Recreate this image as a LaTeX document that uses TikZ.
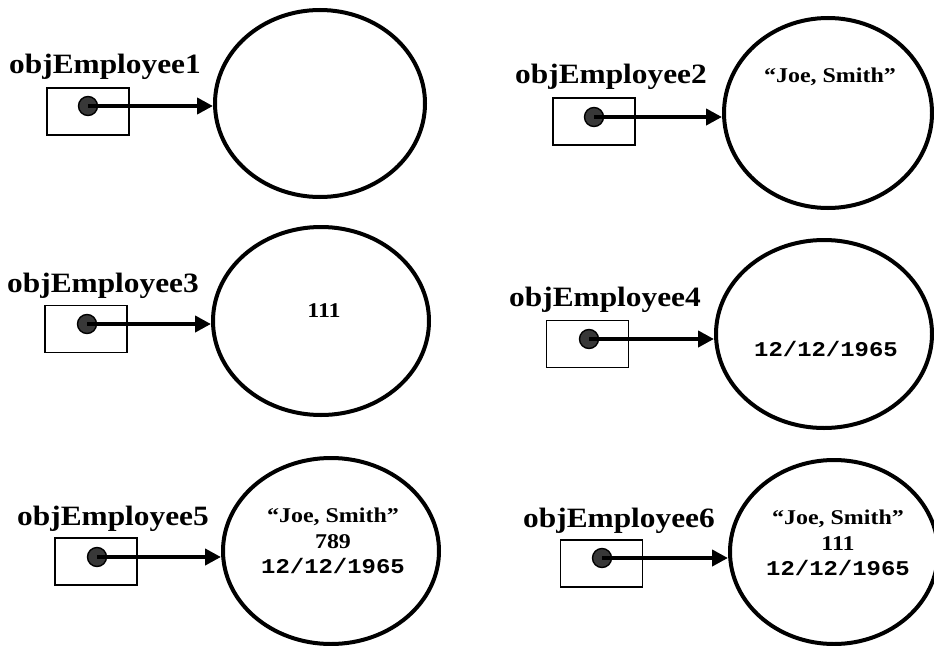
\documentclass[tikz,border=0pt]{standalone}
\usepackage{fontspec}
\setmainfont{Liberation Serif}[FakeStretch=1.12]
\newfontfamily\valfont{Liberation Serif}[FakeStretch=1.14]
\newfontfamily\codefont{Liberation Mono}[FakeStretch=1.14]
\usetikzlibrary{shapes.geometric,arrows.meta}
\tikzset{
  varname/.style={anchor=base west, inner sep=0pt, font=\fontsize{28}{32}\selectfont\bfseries},
  refbox/.style={draw, line width=1.6pt, inner sep=0pt, minimum width=82pt, minimum height=47pt},
  refdot/.style={circle, draw, line width=1.4pt, fill=black!78, minimum size=19pt, inner sep=0pt},
  objshape/.style={ellipse, draw, line width=4pt, inner sep=0pt},
  ref/.style={line width=4.5pt, -{Triangle[length=16pt,width=16pt]}},
  val/.style={anchor=base, inner sep=0pt, font=\fontsize{21}{25}\selectfont\valfont\bfseries},
  dateval/.style={anchor=base, inner sep=0pt, font=\fontsize{21}{25}\selectfont\codefont\bfseries},
}
\begin{document}
\begin{tikzpicture}[x=1pt, y=-1pt]
\useasboundingbox (0,0) rectangle (934,645);

% objEmployee1: empty object
\node[varname] (n1) at (9,73) {objEmployee1};
\node[refbox] (b1) at (88,111.5) {};
\node[refdot] (d1) at (88,106) {};
\node[objshape, minimum width=210pt, minimum height=187pt] (e1) at (320,103.5) {};
\draw[ref] (d1.center) -- (d1.center -| e1.west);

% objEmployee2: name set
\node[varname] (n2) at (515,83) {objEmployee2};
\node[refbox] (b2) at (594,121.5) {};
\node[refdot] (d2) at (594,117) {};
\node[objshape, minimum width=208pt, minimum height=190pt] (e2) at (828,113) {};
\node[val] (v2a) at (830,82) {“Joe, Smith”};
\draw[ref] (d2.center) -- (d2.center -| e2.west);

% objEmployee3: id set
\node[varname] (n3) at (7,292) {objEmployee3};
\node[refbox] (b3) at (86,329) {};
\node[refdot] (d3) at (87,324) {};
\node[objshape, minimum width=216pt, minimum height=188pt] (e3) at (321,321) {};
\node[val] (v3a) at (324,317) {111};
\draw[ref] (d3.center) -- (d3.center -| e3.west);

% objEmployee4: date set
\node[varname] (n4) at (509,306) {objEmployee4};
\node[refbox] (b4) at (587.5,344) {};
\node[refdot] (d4) at (589,339) {};
\node[objshape, minimum width=216pt, minimum height=188pt] (e4) at (824,334) {};
\node[dateval] (v4a) at (826,356) {12/12/1965};
\draw[ref] (d4.center) -- (d4.center -| e4.west);

% objEmployee5: all fields set
\node[varname] (n5) at (17,525) {objEmployee5};
\node[refbox] (b5) at (96,561.5) {};
\node[refdot] (d5) at (97,557) {};
\node[objshape, minimum width=216pt, minimum height=186pt] (e5) at (331,551) {};
\node[val] (v5a) at (333,522) {“Joe, Smith”};
\node[val] (v5b) at (333,548) {789};
\node[dateval] (v5c) at (333,573) {12/12/1965};
\draw[ref] (d5.center) -- (d5.center -| e5.west);

% objEmployee6: all fields set
\node[varname] (n6) at (523,527) {objEmployee6};
\node[refbox] (b6) at (601.5,563.5) {};
\node[refdot] (d6) at (602,558) {};
\node[objshape, minimum width=208pt, minimum height=184pt] (e6) at (834,552) {};
\node[val] (v6a) at (838,524) {“Joe, Smith”};
\node[val] (v6b) at (838,550) {111};
\node[dateval] (v6c) at (838,575) {12/12/1965};
\draw[ref] (d6.center) -- (d6.center -| e6.west);
\end{tikzpicture}
\end{document}
